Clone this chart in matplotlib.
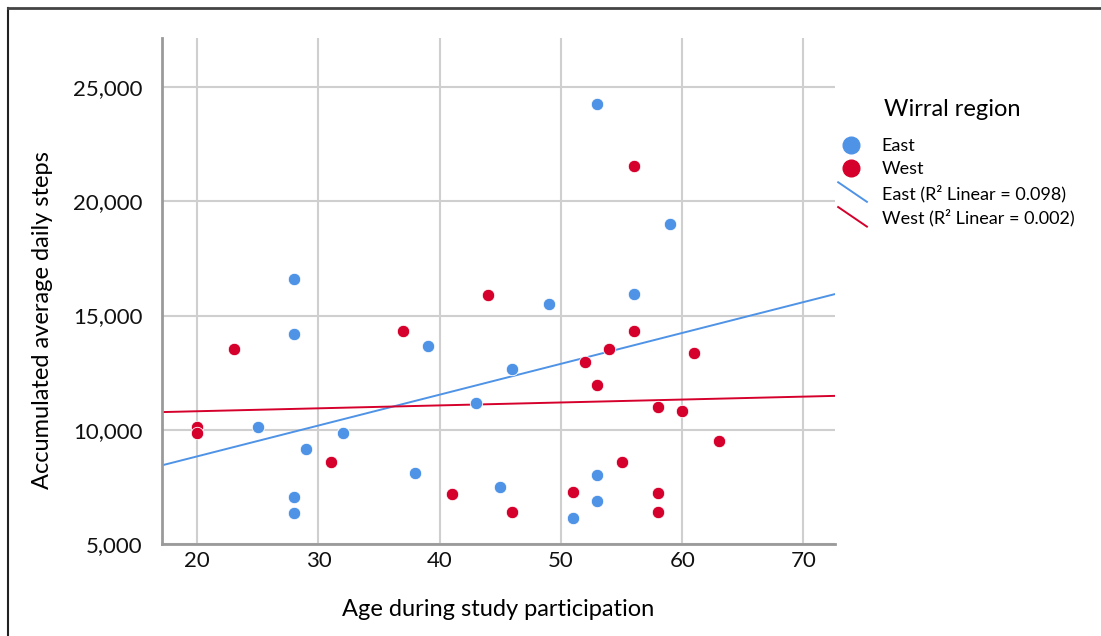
import numpy as np
import matplotlib
matplotlib.use("Agg")
import matplotlib.pyplot as plt
from matplotlib.lines import Line2D
from matplotlib.legend_handler import HandlerLine2D
from matplotlib.ticker import FuncFormatter

plt.rcParams['font.family'] = ['Lato', 'DejaVu Sans']

# ---- data ----
east_age = [53, 59, 28, 56, 49, 28, 39, 46, 43, 25, 32, 29, 38, 53, 45, 28, 53, 28, 51]
east_steps = [24257, 19008, 16602, 15946, 15508, 14196, 13671, 12665, 11190, 10128,
              9866, 9166, 8116, 8040, 7504, 7050, 6891, 6367, 6140]
west_age = [20, 20, 23, 31, 37, 41, 44, 46, 51, 52, 53, 54, 55, 56, 56, 58, 58, 58, 60, 61, 63]
west_steps = [10142, 9852, 13540, 8598, 14327, 7167, 15902, 6383, 7285, 12959, 11979,
              13540, 8580, 21545, 14327, 10990, 7241, 6383, 10828, 13352, 9502]
x_ticks = [20, 30, 40, 50, 60, 70]
y_ticks = [5000, 10000, 15000, 20000, 25000]
groups = ["East", "West"]
r2_labels = ["East (R\u00b2 Linear = 0.098)", "West (R\u00b2 Linear = 0.002)"]

east_color = '#4f93e6'
west_color = '#d5002b'

fig = plt.figure(figsize=(11.01, 6.36), dpi=100)
ax = fig.add_axes([162/1101, 1-544/636, (835-162)/1101, (544-38)/636])

xlim = (17.1, 72.6)
ylim = (5000, 27150)
ax.set_xlim(*xlim)
ax.set_ylim(*ylim)

ax.grid(True, color='#cfcfcf', linewidth=1.5, zorder=0)
ax.set_axisbelow(True)
ax.set_xticks(x_ticks)
ax.set_yticks(y_ticks)
ax.yaxis.set_major_formatter(FuncFormatter(lambda v, p: f"{int(v):,}"))
ax.tick_params(axis='both', length=0, labelsize=16, colors='#111111')
ax.tick_params(axis='y', pad=14)
ax.tick_params(axis='x', pad=5)
for s in ['top', 'right']:
    ax.spines[s].set_visible(False)
for s in ['left', 'bottom']:
    ax.spines[s].set_color('#9a9a9a')
    ax.spines[s].set_linewidth(2)

ax.scatter(east_age, east_steps, s=80, color=east_color, edgecolors='white', linewidths=0.6, zorder=3)
ax.scatter(west_age, west_steps, s=80, color=west_color, edgecolors='white', linewidths=0.6, zorder=3)

xs = np.array(xlim)
for ages, steps, col in [(east_age, east_steps, east_color), (west_age, west_steps, west_color)]:
    b, a = np.polyfit(ages, steps, 1)
    ax.plot(xs, a + b * xs, color=col, linewidth=1.4, zorder=2)

ax.set_xlabel("Age during study participation", fontsize=17)
ax.set_ylabel("Accumulated average daily steps", fontsize=17)
ax.xaxis.set_label_coords(0.5, -(609 - 544) / 506, transform=ax.transAxes)
ax.xaxis.label.set_va('center')
ax.yaxis.set_label_coords((43 - 162) / 673, (544 - 320) / 506, transform=ax.transAxes)
ax.yaxis.label.set_va('center')


class DiagHandler(HandlerLine2D):
    def create_artists(self, legend, orig_handle, xdescent, ydescent, width, height, fontsize, trans):
        line = Line2D([-xdescent + 3, -xdescent + width - 1], [height + 3, -2],
                      color=orig_handle.get_color(), linewidth=1.4)
        line.set_transform(trans)
        return [line]


handles = [
    Line2D([], [], marker='o', linestyle='none', markersize=12, color=east_color),
    Line2D([], [], marker='o', linestyle='none', markersize=12, color=west_color),
    Line2D([], [], color=east_color),
    Line2D([], [], color=west_color),
]
labels = groups + r2_labels
leg = fig.legend(handles, labels, title="Wirral region", loc='upper left',
                 bbox_to_anchor=(834/1101, 1-99/636), frameon=False, fontsize=13,
                 title_fontsize=17, handlelength=1.9, handletextpad=0.75,
                 labelspacing=0.4, borderaxespad=0, borderpad=0,
                 handler_map={handles[2]: DiagHandler(), handles[3]: DiagHandler()})
leg._legend_box.align = "left"
leg._legend_box.sep = 13
leg.get_title().set_position((50, 0))

# page border (top and left)
fig.add_artist(Line2D([8/1101, 8/1101], [0, 1-8/636], color='#222222', linewidth=1.5, transform=fig.transFigure))
fig.add_artist(Line2D([8/1101, 1], [1-8/636, 1-8/636], color='#444444', linewidth=2, transform=fig.transFigure))

fig.savefig("out.png", dpi=100)
